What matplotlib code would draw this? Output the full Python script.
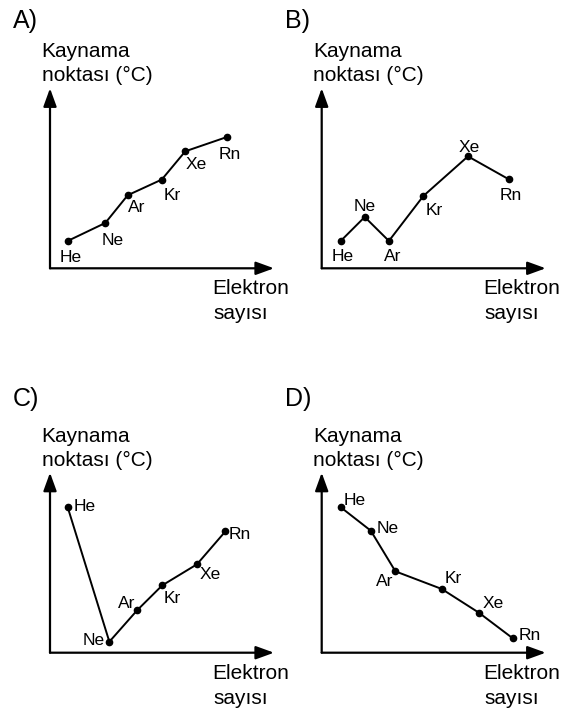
import matplotlib.pyplot as plt

plt.rcParams['font.family'] = ['Liberation Sans', 'DejaVu Sans']

ELEMENTS = ['He', 'Ne', 'Ar', 'Kr', 'Xe', 'Rn']

# values, in % of the arrow length (x: electron count, y: boiling point)
a_x = [7.9, 24.7, 34.7, 49.9, 60.4, 78.9]
a_y = [15.2, 25.2, 40.6, 49.3, 65.0, 72.9]

b_x = [8.5, 19.2, 30.0, 45.4, 65.3, 83.6]
b_y = [15.2, 28.5, 15.2, 40.2, 62.2, 49.4]

c_x = [7.9, 26.5, 39.0, 50.1, 65.6, 78.3]
c_y = [80.8, 6.1, 23.7, 37.4, 49.1, 67.4]

d_x = [8.5, 21.9, 32.9, 53.6, 70.2, 85.3]
d_y = [80.8, 67.8, 45.2, 35.4, 22.2, 8.0]

Y_LABEL = ['Kaynama', 'noktası (°C)']
X_LABEL = ['Elektron', 'sayısı']

# label placement (pixels: dx, dy down, alignment)
a_lab = [(3, 21, 'center'), (7.5, 21.6, 'center'), (9, 16.7, 'center'),
         (10, 20.7, 'center'), (11.4, 17.3, 'center'), (3, 21.6, 'center')]
b_lab = [(1.8, 20.3, 'center'), (-0.5, -6, 'center'), (3.5, 20.3, 'center'),
         (10.9, 19.3, 'center'), (1.2, -4.3, 'center'), (1.5, 21, 'center')]
c_lab = [(5.6, 3.4, 'left'), (-5, 3.3, 'right'), (-2.3, -1.7, 'right'),
         (1, 18, 'left'), (3, 14.7, 'left'), (3, 7.7, 'left')]
d_lab = [(3.3, -2.3, 'left'), (6, 2.6, 'left'), (-2, 14.7, 'right'),
         (3.3, -6.3, 'left'), (3.7, -4.4, 'left'), (6.3, 1.7, 'left')]

W, H = 579, 709
AX_W, AX_H = 224, 180


def fx(x):
    return x / W


def fy(y):
    return 1 - y / H


fig = plt.figure(figsize=(W / 100, H / 100), dpi=100)

# letter, axes origin (px), letter baseline (px), data, label placement
panels = [
    ('A)', (50, 268.3), 28, a_x, a_y, a_lab),
    ('B)', (321.7, 268.3), 28, b_x, b_y, b_lab),
    ('C)', (50, 652.7), 406, c_x, c_y, c_lab),
    ('D)', (321.7, 652.7), 406, d_x, d_y, d_lab),
]

for letter, (ox, oy), ly, xs, ys, labs in panels:
    ax = fig.add_axes([fx(ox), fy(oy), AX_W / W, AX_H / H])
    ax.set_xlim(0, 100)
    ax.set_ylim(0, 100)
    ax.axis('off')

    arrow = dict(arrowstyle='-|>,head_length=1.1,head_width=0.4',
                 mutation_scale=10, lw=1.6, color='black',
                 shrinkA=0, shrinkB=0)
    ax.annotate('', xy=(1, 0), xytext=(0, 0), xycoords='axes fraction',
                arrowprops=arrow, annotation_clip=False)
    ax.annotate('', xy=(0, 1), xytext=(0, 0), xycoords='axes fraction',
                arrowprops=arrow, annotation_clip=False)

    ax.plot(xs, ys, '-', color='black', lw=1.4, marker='o',
            markersize=4.5, clip_on=False)

    for name, x, y, (dx, dy, ha) in zip(ELEMENTS, xs, ys, labs):
        ax.annotate(name, (x, y), xytext=(dx * 0.72, -dy * 0.72),
                    textcoords='offset points', ha=ha, va='baseline',
                    fontsize=12.5)

    fig.text(fx(ox - 37), fy(ly), letter, fontsize=18, va='baseline')
    fig.text(fx(ox - 8.5), fy(oy - 211), Y_LABEL[0], fontsize=15, va='baseline')
    fig.text(fx(ox - 8.5), fy(oy - 187), Y_LABEL[1], fontsize=15, va='baseline')
    fig.text(fx(ox + 162), fy(oy + 26), X_LABEL[0], fontsize=15, va='baseline')
    fig.text(fx(ox + 163), fy(oy + 51), X_LABEL[1], fontsize=15, va='baseline')

fig.savefig('out.png', dpi=100, facecolor='white')
